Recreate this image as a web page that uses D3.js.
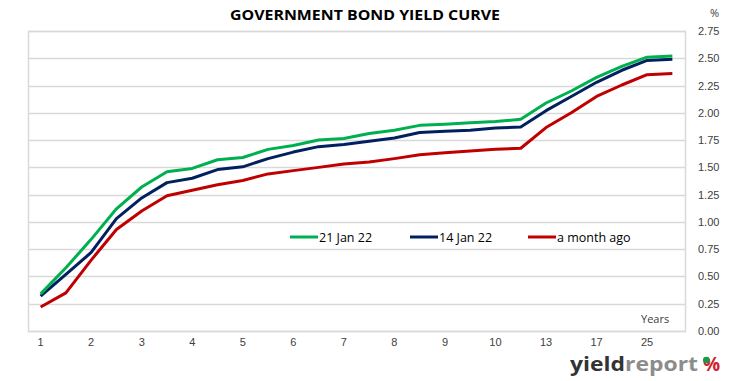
<!DOCTYPE html>
<html>
<head>
<meta charset="utf-8">
<script src="https://cdn.jsdelivr.net/npm/d3@7"></script>
<style>
  body { margin: 0; background: #fff; }
  svg { display: block; font-family: "Open Sans", "Liberation Sans", sans-serif; }
</style>
</head>
<body>
<div id="chart"></div>
<script>
// maturities, half-year steps; only every other one carries a label
var tenors = ["1","","2","","3","","4","","5","","6","","7","","8","","9","","10","","13","","17","","25",""];
var yield21 = [0.34,0.58,0.84,1.12,1.32,1.46,1.49,1.57,1.59,1.665,1.70,1.75,1.765,1.81,1.84,1.885,1.895,1.91,1.92,1.94,2.09,2.20,2.325,2.425,2.51,2.52];
var yield14 = [0.32,0.52,0.72,1.03,1.22,1.36,1.40,1.48,1.505,1.58,1.64,1.69,1.71,1.74,1.77,1.82,1.83,1.84,1.86,1.87,2.02,2.15,2.28,2.39,2.48,2.49];
var yieldMonth = [0.22,0.35,0.65,0.93,1.10,1.24,1.29,1.34,1.38,1.44,1.47,1.50,1.53,1.55,1.58,1.615,1.635,1.65,1.665,1.675,1.865,2.00,2.15,2.255,2.35,2.36];
var yTicks = [0,0.25,0.5,0.75,1,1.25,1.5,1.75,2,2.25,2.5,2.75];

var series = [
	{label:"21 Jan 22", values:yield21, col:"#00B050"},
	{label:"14 Jan 22", values:yield14, col:"#002060"},
	{label:"a month ago", values:yieldMonth, col:"#C00000"}
];

var width = 731, height = 381;
var plot = {left:28, right:685, top:31, bottom:331};

var svg = d3.select("#chart").append("svg").attr("width", width).attr("height", height);

var x = d3.scaleBand().domain(d3.range(tenors.length)).range([plot.left, plot.right]);
var y = d3.scaleLinear().domain([0, 2.75]).range([plot.bottom, plot.top]);
var cx = function(i){ return x(i) + x.bandwidth()/2; };

//title
svg.append("text").attr("x", 365).attr("y", 20).attr("text-anchor","middle")
	.style("font-size","15px").style("font-weight","bold").style("fill","#000")
	.attr("textLength", 270).attr("lengthAdjust","spacingAndGlyphs")
	.text("GOVERNMENT BOND YIELD CURVE");

//grid lines
svg.append("g").selectAll("line").data(yTicks).enter().append("line")
	.attr("x1", plot.left).attr("x2", plot.right)
	.attr("y1", function(d){ return Math.round(y(d)) + 0.5; })
	.attr("y2", function(d){ return Math.round(y(d)) + 0.5; })
	.attr("stroke", "#d9d9d9").attr("stroke-width", 1.5);

//plot border
svg.append("rect").attr("x", plot.left + 0.5).attr("y", Math.round(y(2.75)) + 0.5)
	.attr("width", plot.right - plot.left).attr("height", Math.round(y(0)) - Math.round(y(2.75)))
	.attr("fill","none").attr("stroke","#d9d9d9").attr("stroke-width", 1.5);

//right axis
var yAxis = d3.axisRight(y).tickValues(yTicks).tickSize(0).tickPadding(0)
	.tickFormat(d3.format(".2f"));
var ya = svg.append("g").attr("transform","translate(698,0)").call(yAxis);
ya.select(".domain").remove();
ya.selectAll("text").style("font-size","11px").style("fill","#404040").style("font-family","inherit");

svg.append("text").attr("x", 710).attr("y", 17).text("%")
	.style("font-size","11px").style("fill","#404040");

//bottom axis
var xAxis = d3.axisBottom(x).tickSize(0).tickPadding(7)
	.tickFormat(function(i){ return tenors[i]; });
var xa = svg.append("g").attr("transform","translate(0," + plot.bottom + ")").call(xAxis);
xa.select(".domain").remove();
xa.selectAll("text").style("font-size","11px").style("fill","#404040").style("font-family","inherit");

svg.append("text").attr("x", 641).attr("y", 323).text("Years")
	.style("font-size","11px").style("fill","#404040");

//lines
var line = d3.line().x(function(d,i){ return cx(i); }).y(function(d){ return y(d); });
svg.append("g").selectAll("path").data(series.slice().reverse()).enter().append("path")
	.attr("d", function(d){ return line(d.values); })
	.attr("fill","none").attr("stroke", function(d){ return d.col; })
	.attr("stroke-width", 3).attr("stroke-linejoin","round");

//legend
var legX = [290, 410, 528];
var leg = svg.append("g").selectAll("g").data(series).enter().append("g")
	.attr("transform", function(d,i){ return "translate(" + legX[i] + ",237)"; });
leg.append("line").attr("x1",0).attr("x2",28).attr("stroke", function(d){ return d.col; }).attr("stroke-width",3);
leg.append("text").attr("x",29).attr("y",4.5).text(function(d){ return d.label; })
	.style("font-size","12.5px").style("fill","#000");

//logo
var logo = svg.append("text").attr("x", 570).attr("y", 371)
	.attr("textLength", 128).attr("lengthAdjust","spacingAndGlyphs")
	.style("font-size","19px").style("font-weight","bold");
logo.append("tspan").text("yield").style("fill","#333333");
logo.append("tspan").text("report").style("fill","#8c8c8c");
svg.append("text").attr("x", 703).attr("y", 371).text("%")
	.style("font-size","19px").style("font-weight","bold").style("fill","#d0202e");
svg.append("circle").attr("cx", 706.3).attr("cy", 360).attr("r", 3.3).attr("fill","#1e9a45");
</script>
</body>
</html>
